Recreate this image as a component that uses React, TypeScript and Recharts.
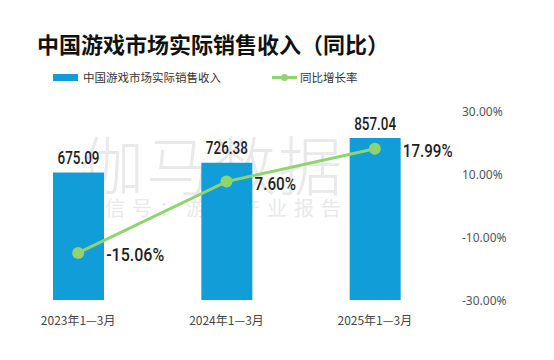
import React from 'react';
import { ComposedChart, Bar, Line, XAxis, YAxis, LabelList } from 'recharts';

const periods = ['2023年1—3月', '2024年1—3月', '2025年1—3月'];
const revenue = [675.09, 726.38, 857.04];
const growth = [-15.06, 7.6, 17.99];
const pctTicks = [-30, -10, 10, 30];

const BLUE = '#119dd8';
const GREEN = '#8fd46e';
const NUM_FONT = '"Roboto", "Noto Sans", sans-serif';
const CJK_FONT = '"Noto Sans CJK SC", sans-serif';

const data = periods.map((p, i) => ({ period: p, revenue: revenue[i], growth: growth[i] }));

// the source uses a narrow number font, so squeeze the labels a bit
const PctLabel = (props: any) => {
  const { x, y, value } = props;
  const s = value.toFixed(2) + '%';
  return (
    <text x={x + 28} y={y + 2} dominantBaseline="central" textAnchor="start"
      fontSize={18} fill="#1f1f1f" fontFamily={NUM_FONT} fontWeight={500}
      textLength={s.length * 8.3} lengthAdjust="spacingAndGlyphs">
      {s}
    </text>
  );
};

const BarLabel = (props: any) => {
  const { x, y, width, value } = props;
  const s = Number(value).toFixed(2);
  return (
    <text x={x + width / 2} y={y - 15} dominantBaseline="central" textAnchor="middle"
      fontSize={18} fill="#1f1f1f" fontFamily={NUM_FONT} fontWeight={500}
      textLength={42} lengthAdjust="spacingAndGlyphs">
      {s}
    </text>
  );
};

const RightTick = (props: any) => {
  const { x, y, payload } = props;
  return (
    <text x={x + 5} y={y} dominantBaseline="central" textAnchor="start"
      fontSize={12} fill="#555" fontFamily='"Noto Sans", sans-serif'>
      {payload.value.toFixed(2)}%
    </text>
  );
};

const App: React.FC = () => {
  return (
    <div style={{ position: 'absolute', left: 0, top: 0, width: 554, height: 360, background: '#fff', overflow: 'hidden' }}>
      {/* watermark */}
      <div style={{ position: 'absolute', left: 80, top: 116, fontSize: 64, color: '#e9e9e9', fontFamily: CJK_FONT, fontWeight: 300, letterSpacing: 2, whiteSpace: 'nowrap' }}>
        伽马数据
      </div>
      <div style={{ position: 'absolute', left: 78, top: 193, fontSize: 20, color: '#e9e9e9', fontFamily: CJK_FONT, letterSpacing: 7, whiteSpace: 'nowrap' }}>
        微信号：游戏产业报告
      </div>

      <div style={{ position: 'absolute', left: 37, top: 28, fontSize: 22, fontWeight: 700, color: '#111', fontFamily: CJK_FONT, whiteSpace: 'nowrap', lineHeight: '30px' }}>
        中国游戏市场实际销售收入（同比）
      </div>

      <div style={{ position: 'absolute', left: 53, top: 68, height: 18, display: 'flex', alignItems: 'center', fontSize: 11.5, color: '#333', fontFamily: CJK_FONT, whiteSpace: 'nowrap' }}>
        <span style={{ display: 'inline-block', width: 25, height: 7, background: BLUE, marginRight: 5 }} />
        中国游戏市场实际销售收入
      </div>
      <div style={{ position: 'absolute', left: 272, top: 68, height: 18, display: 'flex', alignItems: 'center', fontSize: 11.5, color: '#333', fontFamily: CJK_FONT, whiteSpace: 'nowrap' }}>
        <span style={{ position: 'relative', display: 'inline-block', width: 25, height: 3, background: GREEN, marginRight: 3 }}>
          <span style={{ position: 'absolute', left: 9, top: -2, width: 7, height: 7, borderRadius: 4, background: GREEN }} />
        </span>
        同比增长率
      </div>

      <div style={{ position: 'absolute', left: 0, top: 0 }}>
        <ComposedChart width={554} height={360} data={data} margin={{ top: 111, right: 0, bottom: 30, left: 4 }}>
          <XAxis dataKey="period" axisLine={false} tickLine={false} tickMargin={10}
            tick={{ fill: '#444', fontSize: 12, fontFamily: '"Noto Sans CJK SC", sans-serif' }} />
          <YAxis yAxisId="left" hide domain={[0, 1000]} />
          <YAxis yAxisId="right" orientation="right" width={105} domain={[-30, 30]} ticks={pctTicks}
            axisLine={false} tickLine={false} tick={<RightTick />} />
          <Bar yAxisId="left" dataKey="revenue" fill={BLUE} barSize={51} isAnimationActive={false}>
            <LabelList dataKey="revenue" content={<BarLabel />} />
          </Bar>
          <Line yAxisId="right" dataKey="growth" stroke={GREEN} strokeWidth={3}
            dot={{ r: 6, fill: GREEN, stroke: 'none' }} activeDot={false} isAnimationActive={false}>
            <LabelList dataKey="growth" content={<PctLabel />} />
          </Line>
        </ComposedChart>
      </div>
    </div>
  );
};

export default App;
